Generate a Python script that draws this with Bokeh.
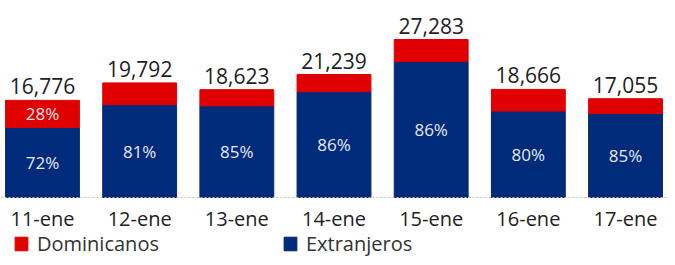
from bokeh.plotting import figure
from bokeh.models import ColumnDataSource, FactorRange, Legend, LegendItem
from bokeh.core.properties import value
from bokeh.embed import file_html
from bokeh.resources import INLINE

# ---- data ----
fechas = ["11-ene", "12-ene", "13-ene", "14-ene", "15-ene", "16-ene", "17-ene"]
totales = [16776, 19792, 18623, 21239, 27283, 18666, 17055]
pct_extranjeros = [72, 81, 85, 86, 86, 80, 85]
pct_dominicanos = [28, 19, 15, 14, 14, 20, 15]
mostrar_pct_dom = [True, False, False, False, False, False, False]

extranjeros = [t * p / 100 for t, p in zip(totales, pct_extranjeros)]
dominicanos = [t - e for t, e in zip(totales, extranjeros)]

FONT = "Open Sans"
RED = "#E00000"
BLUE = "#002A7A"

src = ColumnDataSource(dict(
    x=fechas,
    ext=extranjeros,
    dom=dominicanos,
    tot=totales,
    ext_mid=[e / 2 for e in extranjeros],
    dom_mid=[e + d / 2 for e, d in zip(extranjeros, dominicanos)],
    ext_lbl=[f"{p}%" for p in pct_extranjeros],
    dom_lbl=[f"{p}%" if s else "" for p, s in zip(pct_dominicanos, mostrar_pct_dom)],
    tot_lbl=[f"{t:,}" for t in totales],
))

p = figure(width=667, height=257, output_backend="svg", toolbar_location=None,
           x_range=FactorRange(*fechas, range_padding=-0.068,
                               range_padding_units="absolute"),
           y_range=(-10361, 34018), y_axis_location=None,
           min_border_left=0, min_border_right=0, min_border_top=0, min_border_bottom=0)
p.outline_line_color = None
p.grid.visible = False
p.background_fill_color = "white"
p.border_fill_color = "white"

r_ext = p.vbar(x="x", bottom=0, top="ext", width=0.76, color=BLUE, source=src)
r_dom = p.vbar(x="x", bottom="ext", top="tot", width=0.76, color=RED, source=src)

p.text(x="x", y="ext_mid", text="ext_lbl", source=src, text_align="center",
       text_baseline="middle", text_color="#E6E9F3", text_font=value(FONT),
       text_font_size="17px")
p.text(x="x", y="dom_mid", text="dom_lbl", source=src, text_align="center",
       text_baseline="middle", text_color="#F6E6E6", text_font=value(FONT),
       text_font_size="17px")
p.text(x="x", y="tot", text="tot_lbl", source=src, text_align="center",
       text_baseline="bottom", y_offset=-6, text_color="#222222", text_font=value(FONT),
       text_font_size="21px")

ax = p.xaxis[0]
ax.fixed_location = 0
ax.axis_line_color = "#BBBBBB"
ax.axis_line_dash = "2 2"
ax.major_tick_line_color = None
ax.minor_tick_line_color = None
ax.major_label_text_font = FONT
ax.major_label_text_font_size = "20px"
ax.major_label_text_color = "#222222"
ax.major_label_standoff = 2

legend = Legend(items=[LegendItem(label="Dominicanos", renderers=[r_dom]),
                       LegendItem(label="Extranjeros", renderers=[r_ext])],
                orientation="horizontal", location=(13, 0),
                glyph_width=16, glyph_height=17, label_standoff=8,
                spacing=123, padding=0, margin=0,
                label_text_font=FONT, label_text_font_size="20px",
                label_text_color="#333333", border_line_color=None,
                background_fill_alpha=0)
p.add_layout(legend)

open("out.html", "w").write(file_html(p, INLINE))
